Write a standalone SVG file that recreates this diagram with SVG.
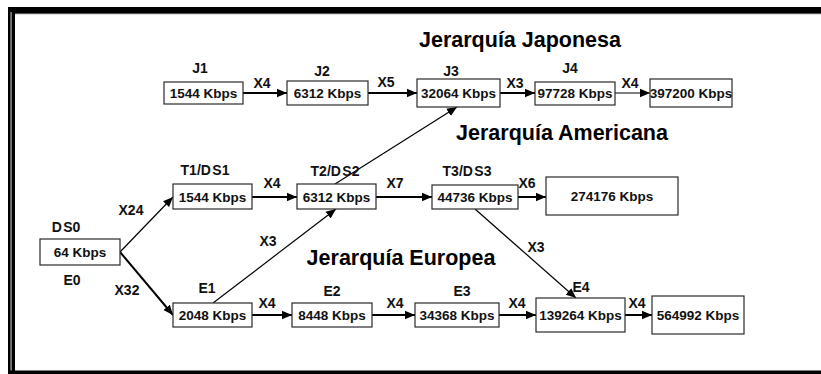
<svg xmlns="http://www.w3.org/2000/svg" width="821" height="374" viewBox="0 0 821 374">
  <style>
    .box { fill: #ffffff; stroke: #2a2a2a; stroke-width: 1.2; }
    .val { font-family: "Liberation Sans", Arial, sans-serif; font-weight: bold; font-size: 13.5px; fill: #111; text-anchor: middle; }
    .lbl { font-family: "Liberation Sans", Arial, sans-serif; font-weight: bold; font-size: 14px; fill: #111; text-anchor: middle; }
    .tight { word-spacing: -2.5px; }
    .title { font-family: "Liberation Sans", Arial, sans-serif; font-weight: bold; font-size: 21.5px; fill: #000; text-anchor: middle; }
    .wire { fill: none; stroke: #000; stroke-width: 2; marker-end: url(#head); }
    .thin { stroke-width: 1.2; }
  </style>
  <defs>
    <marker id="head" markerUnits="userSpaceOnUse" markerWidth="10" markerHeight="10" viewBox="0 0 10 10" refX="10" refY="5" orient="auto">
      <path d="M0,0.8 L10,5 L0,9.2 Z" fill="#000"/>
    </marker>
  </defs>

  <!-- frame -->
  <rect x="0" y="0" width="821" height="374" fill="#ffffff"/>
  <g id="frame">
    <rect x="8" y="7" width="813" height="7" fill="#000"/>
    <rect x="14" y="13" width="807" height="1.2" fill="#555"/>
    <rect x="8" y="7" width="7" height="367" fill="#000"/>
    <rect x="10.3" y="12" width="1.6" height="362" fill="#888"/>
    <rect x="8" y="370.5" width="813" height="3.5" fill="#000"/>
  </g>

  <!-- section titles -->
  <g id="titles">
    <text class="title" x="520" y="47">Jerarquía Japonesa</text>
    <text class="title" x="562" y="140">Jerarquía Americana</text>
    <text class="title" x="401" y="265">Jerarquía Europea</text>
  </g>

  <!-- connectors -->
  <g id="connectors">
    <line class="wire" x1="243" y1="93" x2="287" y2="93"/>
    <line class="wire" x1="368" y1="93" x2="417" y2="93"/>
    <line class="wire" x1="500" y1="93" x2="535" y2="93"/>
    <line class="wire thin" x1="615" y1="93" x2="650" y2="93"/>

    <line class="wire" x1="252" y1="197" x2="297" y2="197"/>
    <line class="wire" x1="376" y1="197" x2="432" y2="197"/>
    <line class="wire" x1="518" y1="197" x2="546" y2="197"/>

    <line class="wire thin" x1="120" y1="252" x2="173" y2="197"/>
    <line class="wire" x1="120" y1="252" x2="173" y2="315"/>

    <line class="wire thin" x1="213" y1="303" x2="336" y2="209"/>
    <line class="wire thin" x1="335" y1="184" x2="457" y2="107"/>
    <line class="wire thin" x1="475" y1="209" x2="576" y2="298"/>

    <line class="wire" x1="252" y1="315" x2="292" y2="315"/>
    <line class="wire" x1="372" y1="315" x2="415" y2="315"/>
    <line class="wire" x1="499" y1="315" x2="536" y2="315"/>
    <line class="wire" x1="625" y1="315" x2="652" y2="315"/>
  </g>

  <!-- multiplex factors -->
  <g id="factors">
    <text class="lbl" x="262" y="88">X4</text>
    <text class="lbl" x="386" y="87">X5</text>
    <text class="lbl" x="515" y="88">X3</text>
    <text class="lbl" x="630" y="88">X4</text>
    <text class="lbl" x="272" y="188">X4</text>
    <text class="lbl" x="395" y="188">X7</text>
    <text class="lbl" x="527" y="188">X6</text>
    <text class="lbl" x="131" y="215">X24</text>
    <text class="lbl" x="127" y="295">X32</text>
    <text class="lbl" x="268" y="246">X3</text>
    <text class="lbl" x="536" y="252">X3</text>
    <text class="lbl" x="267" y="308">X4</text>
    <text class="lbl" x="395" y="308">X4</text>
    <text class="lbl" x="517" y="308">X4</text>
    <text class="lbl" x="637" y="308">X4</text>
  </g>

  <!-- Japanese hierarchy -->
  <g id="j1">
    <text class="lbl" x="200" y="73">J1</text>
    <rect class="box" x="164" y="82" width="79" height="22"/>
    <text class="val" x="203.5" y="98">1544 Kbps</text>
  </g>
  <g id="j2">
    <text class="lbl" x="322" y="76">J2</text>
    <rect class="box" x="287" y="81" width="81" height="24"/>
    <text class="val" x="327.5" y="98">6312 Kbps</text>
  </g>
  <g id="j3">
    <text class="lbl" x="451" y="76">J3</text>
    <rect class="box" x="417" y="79" width="83" height="28"/>
    <text class="val" x="458.5" y="98">32064 Kbps</text>
  </g>
  <g id="j4">
    <text class="lbl" x="570" y="73">J4</text>
    <rect class="box" x="535" y="82" width="80" height="23"/>
    <text class="val" x="575" y="98">97728 Kbps</text>
  </g>
  <g id="j5">
    <rect class="box" x="650" y="79" width="82" height="28"/>
    <text class="val" x="691" y="98">397200 Kbps</text>
  </g>

  <!-- American hierarchy -->
  <g id="ds0">
    <text class="lbl tight" x="66" y="232">D S0</text>
    <rect class="box" x="40" y="239" width="80" height="26"/>
    <text class="val" x="80" y="257">64 Kbps</text>
    <text class="lbl" x="72" y="285">E0</text>
  </g>
  <g id="t1">
    <text class="lbl tight" x="205" y="175">T1/D S1</text>
    <rect class="box" x="173" y="184" width="79" height="25"/>
    <text class="val" x="212.5" y="201.5">1544 Kbps</text>
  </g>
  <g id="t2">
    <text class="lbl tight" x="335" y="176">T2/D S2</text>
    <rect class="box" x="297" y="184" width="79" height="25"/>
    <text class="val" x="336.5" y="201.5">6312 Kbps</text>
  </g>
  <g id="t3">
    <text class="lbl tight" x="467" y="176">T3/D S3</text>
    <rect class="box" x="432" y="185" width="86" height="24"/>
    <text class="val" x="475" y="201.5">44736 Kbps</text>
  </g>
  <g id="t4">
    <rect class="box" x="546" y="177" width="132" height="38"/>
    <text class="val" x="612" y="201">274176 Kbps</text>
  </g>

  <!-- European hierarchy -->
  <g id="e1">
    <text class="lbl" x="207" y="293">E1</text>
    <rect class="box" x="173" y="303" width="79" height="24"/>
    <text class="val" x="212.5" y="320">2048 Kbps</text>
  </g>
  <g id="e2">
    <text class="lbl" x="332" y="296">E2</text>
    <rect class="box" x="292" y="303" width="80" height="24"/>
    <text class="val" x="332" y="320">8448 Kbps</text>
  </g>
  <g id="e3">
    <text class="lbl" x="462" y="296">E3</text>
    <rect class="box" x="415" y="303" width="84" height="24"/>
    <text class="val" x="457" y="320">34368 Kbps</text>
  </g>
  <g id="e4">
    <text class="lbl" x="581" y="292">E4</text>
    <rect class="box" x="536" y="298" width="89" height="34"/>
    <text class="val" x="580.5" y="320">139264 Kbps</text>
  </g>
  <g id="e5">
    <rect class="box" x="652" y="296" width="92" height="38"/>
    <text class="val" x="698" y="320">564992 Kbps</text>
  </g>
</svg>
